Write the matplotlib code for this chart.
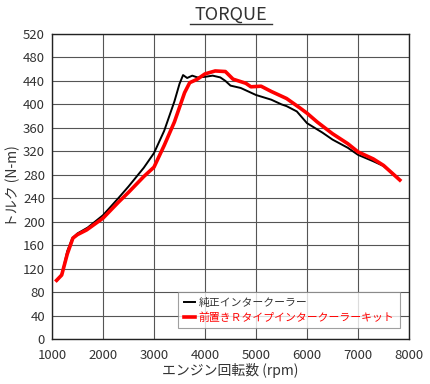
import matplotlib
matplotlib.use("Agg")
import matplotlib.pyplot as plt
from matplotlib.lines import Line2D

plt.rcParams['font.family'] = ['Noto Sans CJK JP', 'DejaVu Sans']

rpm_std = [1100, 1200, 1300, 1400, 1500, 1700, 2000, 2300, 2500, 2800, 3000, 3200, 3400, 3500, 3570, 3650,
           3750, 3850, 4000, 4150, 4300, 4400, 4500, 4700, 4900, 5000, 5300, 5500, 5600, 5800, 6000, 6300,
           6500, 6800, 7000, 7300, 7500, 7780]
tq_std = [100, 112, 150, 172, 180, 190, 211, 240, 260, 292, 317, 355, 405, 435, 450, 445,
          449, 446, 447, 449, 446, 440, 432, 428, 420, 416, 408, 400, 397, 388, 368, 352,
          340, 326, 314, 303, 295, 275]

rpm_r = [1090, 1190, 1300, 1410, 1500, 1680, 2000, 2300, 2500, 2800, 3000, 3200, 3400, 3600, 3700, 3850,
         4000, 4200, 4400, 4550, 4800, 4900, 5100, 5300, 5600, 5860, 6000, 6200, 6500, 6800, 7000, 7300,
         7500, 7820]
tq_r = [100, 109, 145, 172, 178, 186, 206, 233, 250, 277, 293, 330, 370, 420, 437, 443,
        452, 457, 456, 443, 436, 430, 431, 422, 410, 394, 385, 370, 350, 333, 319, 307,
        296, 271]

label_std = '純正インタークーラー'
label_r = '前置きＲタイプインタークーラーキット'
xticks = list(range(1000, 8001, 1000))
yticks = list(range(0, 521, 40))

fig = plt.figure(figsize=(4.3, 3.84), dpi=100)
ax = fig.add_axes([52/430, 1 - 339/384, (409-52)/430, (339-34)/384])

ax.plot(rpm_std, tq_std, color='black', lw=1.4, zorder=3)
ax.plot(rpm_r, tq_r, color='#ff0000', lw=2.6, zorder=4)

ax.set_xlim(1000, 8000)
ax.set_ylim(0, 520)
ax.set_xticks(xticks)
ax.set_yticks(yticks)
ax.grid(True, color='#555555', lw=0.8)
ax.set_axisbelow(True)
for s in ax.spines.values():
    s.set_color('#222222')
    s.set_linewidth(1.0)
ax.tick_params(axis='both', length=0, labelsize=9.5, labelcolor='#333333')
ax.tick_params(axis='x', pad=7)
ax.tick_params(axis='y', pad=5)

ax.set_xlabel('エンジン回転数 (rpm)', fontsize=10, color='#333333', labelpad=1)
ax.set_ylabel('トルク (N-m)', fontsize=10, color='#333333', labelpad=2)

fig.text(231/430, 1 - 15/384, 'TORQUE', ha='center', va='center', fontsize=13, color='#333333')
fig.add_artist(Line2D([190/430, 272/430], [1 - 24/384, 1 - 24/384], color='#333333', lw=1.0))

handles = [Line2D([], [], color='black', lw=1.4), Line2D([], [], color='#ff0000', lw=2.6)]
leg = ax.legend(handles, [label_std, label_r], loc='lower right', bbox_to_anchor=(0.975, 0.035),
                fontsize=7.8, frameon=True, fancybox=False, handlelength=1.0, handletextpad=0.4,
                borderpad=0.5, labelspacing=0.45, borderaxespad=0)
leg.get_frame().set_edgecolor('#888888')
leg.get_frame().set_linewidth(0.8)
leg.get_texts()[0].set_color('#333333')
leg.get_texts()[1].set_color('#ff0000')

fig.savefig('out.png', dpi=100)
